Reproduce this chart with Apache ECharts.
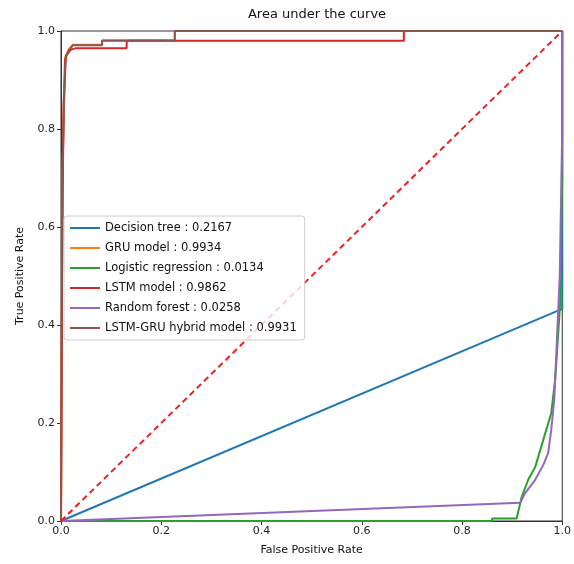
<!DOCTYPE html>
<html>
<head>
<meta charset="utf-8">
<script src="https://cdn.jsdelivr.net/npm/echarts@6/dist/echarts.min.js"></script>
<style>
  html, body { margin: 0; padding: 0; background: #fff; }
  #main { width: 574px; height: 564px; }
</style>
</head>
<body>
<div id="main"></div>
<script>
// ROC curves
const modelNames = ["Decision tree", "GRU model", "Logistic regression", "LSTM model", "Random forest", "LSTM-GRU hybrid model"];
const aucScores = ["0.2167", "0.9934", "0.0134", "0.9862", "0.0258", "0.9931"];
const colors = ["#1f77b4", "#ff7f0e", "#2ca02c", "#d62728", "#9467bd", "#8c564b"];

const fprTree = [0, 1, 1];
const tprTree = [0, 0.433, 1];

// mostly hidden under the hybrid curve
const fprGru = [0, 0.003, 0.008, 0.015, 0.024, 0.082, 0.082, 0.227, 0.227, 1];
const tprGru = [0, 0.72, 0.945, 0.962, 0.972, 0.972, 0.981, 0.981, 1, 1];

const fprLogit = [0, 0.86, 0.86, 0.909, 0.919, 0.932, 0.946, 0.962, 0.978, 0.986, 0.996, 1, 1];
const tprLogit = [0, 0, 0.005, 0.005, 0.049, 0.084, 0.11, 0.165, 0.22, 0.29, 0.447, 0.7, 1];

const fprLstm = [0, 0.002, 0.005, 0.01, 0.02, 0.03, 0.131, 0.131, 0.684, 0.684, 1];
const tprLstm = [0, 0.5, 0.85, 0.95, 0.962, 0.965, 0.965, 0.98, 0.98, 1, 1];

const fprForest = [0, 0.916, 0.926, 0.946, 0.962, 0.972, 0.978, 0.984, 0.995, 1, 1];
const tprForest = [0, 0.037, 0.057, 0.084, 0.114, 0.139, 0.186, 0.247, 0.5, 0.8, 1];

const fprHybrid = [0, 0.003, 0.008, 0.015, 0.024, 0.082, 0.082, 0.227, 0.227, 1];
const tprHybrid = [0, 0.7, 0.94, 0.96, 0.971, 0.971, 0.98, 0.98, 1, 1];

const fprLists = [fprTree, fprGru, fprLogit, fprLstm, fprForest, fprHybrid];
const tprLists = [tprTree, tprGru, tprLogit, tprLstm, tprForest, tprHybrid];

const chanceX = [0, 1];
const chanceY = [0, 1];

function pairs(xs, ys) {
  return xs.map((x, i) => [x, ys[i]]);
}

const chart = echarts.init(document.getElementById("main"), null, { renderer: "canvas" });

const series = modelNames.map((name, i) => ({
  name: name + " : " + aucScores[i],
  type: "line",
  data: pairs(fprLists[i], tprLists[i]),
  showSymbol: false,
  clip: false,
  lineStyle: { color: colors[i], width: 2 },
  itemStyle: { color: colors[i] },
  z: 2 + i
}));

series.push({
  name: "chance",
  type: "line",
  data: pairs(chanceX, chanceY),
  showSymbol: false,
  lineStyle: { color: "#f02020", width: 2, type: [6, 4] },
  z: 10
});

const option = {
  animation: false,
  backgroundColor: "#fff",
  title: {
    text: "Area under the curve",
    left: 312,
    textAlign: "center",
    top: 3,
    textStyle: { fontFamily: "DejaVu Sans", fontSize: 13, fontWeight: "normal", color: "#111" }
  },
  grid: {
    left: 61,
    right: 10,
    top: 31,
    bottom: 43,
    show: true,
    borderColor: "#333",
    borderWidth: 1
  },
  legend: {
    data: series.slice(0, 6).map(s => s.name),
    orient: "vertical",
    z: 20,
    left: 64,
    top: 216,
    padding: [6, 8, 6, 6],
    itemWidth: 30,
    itemHeight: 2,
    itemGap: 8,
    icon: "rect",
    backgroundColor: "rgba(255,255,255,0.8)",
    borderColor: "#ccc",
    borderWidth: 1,
    borderRadius: 3,
    textStyle: { fontFamily: "DejaVu Sans", fontSize: 11.5, color: "#111" }
  },
  xAxis: {
    type: "value",
    min: 0,
    max: 1,
    interval: 0.2,
    name: "False Positive Rate",
    nameLocation: "middle",
    nameGap: 24,
    nameTextStyle: { fontFamily: "DejaVu Sans", fontSize: 11, color: "#111" },
    axisLine: { show: true, lineStyle: { color: "#333" } },
    axisTick: { show: true, length: 4, lineStyle: { color: "#333" } },
    axisLabel: {
      fontFamily: "DejaVu Sans", fontSize: 11, color: "#222", margin: 5,
      formatter: v => v.toFixed(1)
    },
    splitLine: { show: false }
  },
  yAxis: {
    type: "value",
    min: 0,
    max: 1,
    interval: 0.2,
    name: "True Positive Rate",
    nameLocation: "middle",
    nameGap: 35,
    nameTextStyle: { fontFamily: "DejaVu Sans", fontSize: 11, color: "#111" },
    axisLine: { show: true, lineStyle: { color: "#333" } },
    axisTick: { show: true, length: 4, lineStyle: { color: "#333" } },
    axisLabel: {
      fontFamily: "DejaVu Sans", fontSize: 11, color: "#222", margin: 6,
      formatter: v => v.toFixed(1)
    },
    splitLine: { show: false }
  },
  series: series
};

chart.setOption(option);
</script>
</body>
</html>
